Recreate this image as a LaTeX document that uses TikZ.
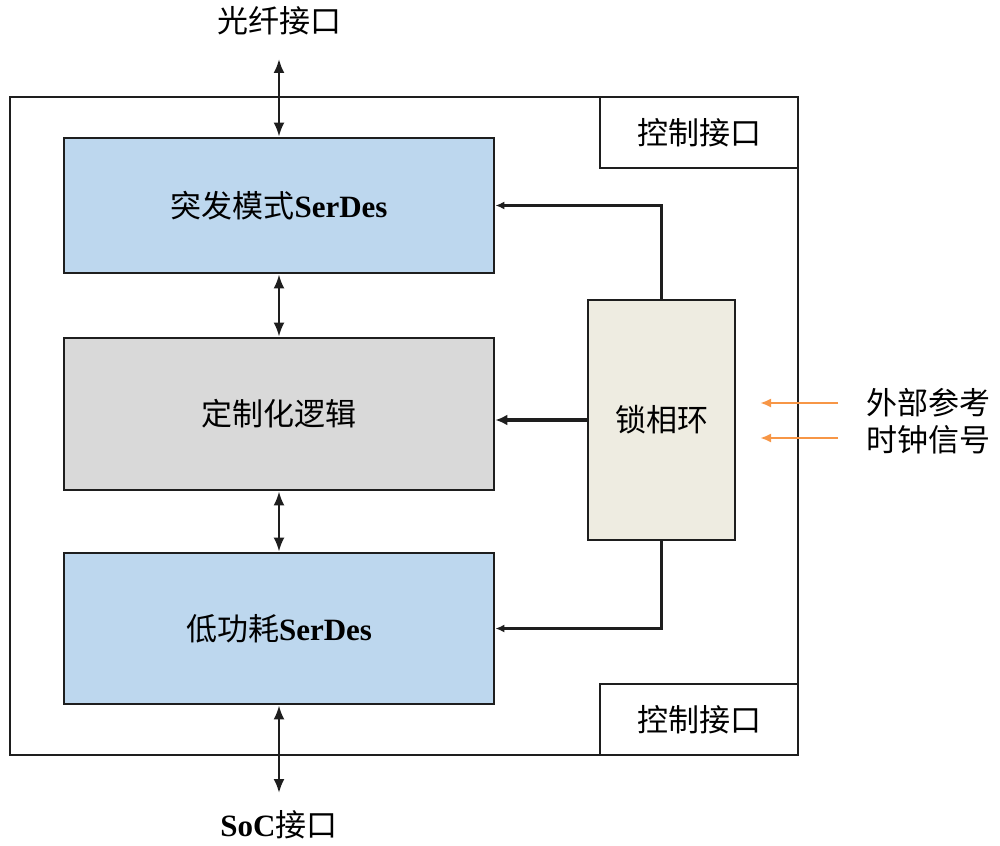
\documentclass[tikz,border=0pt]{standalone}
\usepackage{fontspec}
\setmainfont{Liberation Serif}
\newfontfamily\cjk{Noto Sans CJK SC}
\usetikzlibrary{arrows.meta}
\definecolor{serblue}{RGB}{189,215,238}
\definecolor{logicgray}{RGB}{217,217,217}
\definecolor{pllbeige}{RGB}{238,236,225}
\definecolor{extorange}{RGB}{247,150,70}
\definecolor{edge}{RGB}{30,30,30}
\tikzset{
  blockbox/.style={draw=edge, line width=2.8pt, minimum width=430pt, inner sep=0pt},
  ctrlbox/.style={draw=edge, line width=2.4pt, fill=white, minimum width=198pt, minimum height=71pt, inner sep=0pt},
  lbl/.style={font=\fontsize{31}{34}\selectfont\cjk, inner sep=0pt},
  biarrow/.style={{Latex[length=14pt,width=11pt]}-{Latex[length=14pt,width=11pt]}, line width=2.4pt, draw=edge},
  clkarrow/.style={-{Latex[length=9pt,width=8pt]}, line width=2.2pt, draw=edge},
  thickarrow/.style={-{Latex[length=12pt,width=11pt]}, line width=3.4pt, draw=edge},
  orangearrow/.style={-{Latex[length=11pt,width=9pt]}, line width=2.2pt, draw=extorange}
}
\begin{document}
\begin{tikzpicture}[x=1pt,y=-1pt]
\useasboundingbox (0,0) rectangle (1000,845);
% outer frame
\node[draw=edge, line width=2.6pt, minimum width=788pt, minimum height=658pt, inner sep=0pt] (outer) at (404,426) {};
\node[ctrlbox] (ctrl1) at (699,132.5) {};
\node[lbl] at (ctrl1.center) {控制接口};
\node[ctrlbox] (ctrl2) at (699,719.5) {};
\node[lbl] at (ctrl2.center) {控制接口};
% blocks
\node[blockbox, fill=serblue, minimum height=135pt] (ser1) at (279,205.5) {};
\node[lbl] at (ser1.center) {突发模式{\fontspec{Liberation Serif}\bfseries SerDes}};
\node[blockbox, fill=logicgray, minimum height=152pt] (logic) at (279,414) {};
\node[lbl] at (logic.center) {定制化逻辑};
\node[blockbox, fill=serblue, minimum height=151pt] (ser2) at (279,628.5) {};
\node[lbl] at (ser2.center) {低功耗{\fontspec{Liberation Serif}\bfseries SerDes}};
\node[draw=edge, line width=2.8pt, fill=pllbeige, minimum width=147pt, minimum height=240pt, inner sep=0pt] (pll) at (661.5,420) {};
\node[lbl] at (pll.center) {锁相环};
% outside labels
\node[lbl] (fiber) at (279,21) {光纤接口};
\node[lbl] (soc) at (279,825) {{\fontspec{Liberation Serif}\bfseries SoC}接口};
\node[lbl, anchor=west] (ext1) at (866,403) {外部参考};
\node[lbl, anchor=west] (ext2) at (866,440) {时钟信号};
\coordinate (fibend) at (279,59);
\coordinate (socend) at (279,793);
\coordinate (o1s) at (838,403);
\coordinate (o1e) at (760,403);
\coordinate (o2s) at (838,438);
\coordinate (o2e) at (760,438);
% connectors
\draw[biarrow] (fibend) -- (ser1.north);
\draw[biarrow] (ser1.south) -- (logic.north);
\draw[biarrow] (logic.south) -- (ser2.north);
\draw[biarrow] (ser2.south) -- (socend);
\draw[clkarrow] (pll.north) |- (ser1.east);
\draw[clkarrow] (pll.south) |- (ser2.east);
\draw[thickarrow] (pll.west) -- (pll.west -| logic.east);
\draw[orangearrow] (o1s) -- (o1e);
\draw[orangearrow] (o2s) -- (o2e);
\end{tikzpicture}
\end{document}
